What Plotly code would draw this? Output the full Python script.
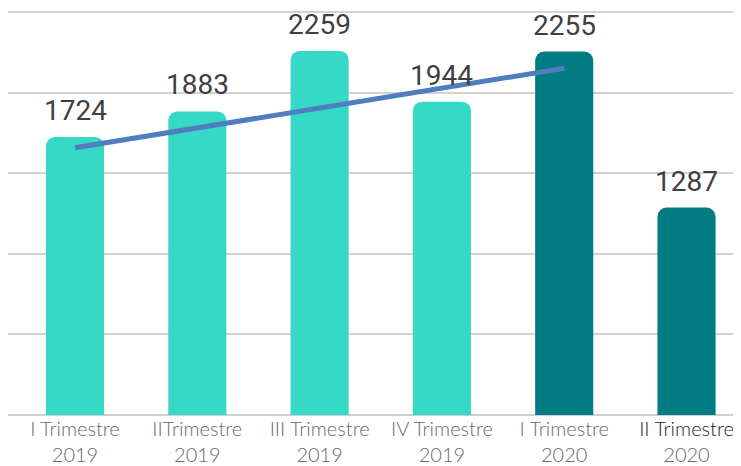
import plotly.graph_objects as go

categories = ["I Trimestre<br>2019", "IITrimestre<br>2019", "III Trimestre<br>2019",
              "IV Trimestre<br>2019", "I Trimestre<br>2020",
              "<span style='color:#262626'>II Trimestre</span><br>2020"]
values = [1724, 1883, 2259, 1944, 2255, 1287]
bar_colors = ["#36D9C5", "#36D9C5", "#36D9C5", "#36D9C5", "#007C82", "#007C82"]
trend_x = [0, 4]
trend_y = [1658, 2151]

xs = list(range(len(values)))

fig = go.Figure()
fig.add_trace(go.Bar(x=xs, y=values, marker=dict(color=bar_colors, line=dict(width=0)),
                     width=0.475, hoverinfo="skip"))
fig.add_trace(go.Scatter(x=trend_x, y=trend_y, mode="lines",
                         line=dict(color="#4F7DBD", width=5), hoverinfo="skip"))

for x, v in zip(xs, values):
    fig.add_annotation(x=x, y=v, text=str(v), showarrow=False, yanchor="bottom",
                       yshift=8, font=dict(family="Roboto", size=28, color="#3F3F3F"))

fig.update_layout(
    width=741, height=466,
    margin=dict(l=0, r=0, t=0, b=59, autoexpand=False),
    paper_bgcolor="white", plot_bgcolor="white",
    showlegend=False,
    barcornerradius=9,
    xaxis=dict(range=[-0.548, 5.511], tickmode="array", tickvals=xs, ticktext=categories,
               showgrid=False, zeroline=False, showline=False, ticks="", automargin=False,
               ticklabelstandoff=0,
               tickfont=dict(family="Lato", size=20, color="#6A6A6A", weight=300)),
    yaxis=dict(range=[0, 2525], dtick=500, showgrid=True, gridcolor="#D3D3D3", gridwidth=1.5,
               zeroline=True, zerolinecolor="#CFCFCF", zerolinewidth=2, automargin=False,
               showticklabels=False, ticks=""),
)

fig.write_html("out.html")
